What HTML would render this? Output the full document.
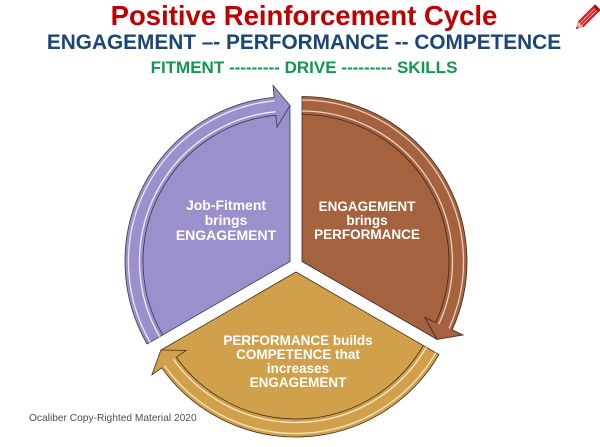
<!DOCTYPE html>
<html>
<head>
<meta charset="utf-8">
<style>
  html,body{margin:0;padding:0;background:#fff;}
  svg{display:block;}
  text{font-family:"Liberation Sans",Arial,sans-serif;}
</style>
</head>
<body>
<svg width="600" height="447" viewBox="0 0 600 447" xmlns="http://www.w3.org/2000/svg">
  <!-- Header -->
  <text x="304" y="25" text-anchor="middle" font-size="27.5" font-weight="bold" fill="#c00000">Positive Reinforcement Cycle</text>
  <text x="304" y="49" text-anchor="middle" font-size="20.8" font-weight="bold" fill="#1b4675">ENGAGEMENT –- PERFORMANCE -- COMPETENCE</text>
  <text x="304" y="73" text-anchor="middle" font-size="17" font-weight="bold" fill="#12984a">FITMENT --------- DRIVE --------- SKILLS</text>

  <!-- Pencil icon -->
  <g transform="translate(587,18) rotate(-45)">
    <polygon points="-15.5,0 -9,-4 -9,4" fill="#e8b0a0"/>
    <polygon points="-15.5,0 -13,-1.5 -13,1.5" fill="#8a1010"/>
    <rect x="-9" y="-4" width="21" height="8" fill="#d42222"/>
    <line x1="-9" y1="-1.3" x2="12" y2="-1.3" stroke="#f3c0c0" stroke-width="0.8"/>
    <line x1="-9" y1="1.3" x2="12" y2="1.3" stroke="#f3c0c0" stroke-width="0.8"/>
    <rect x="12" y="-4" width="3.5" height="8" fill="#a51515"/>
  </g>

  <!-- Purple sector -->
  <path d="M 290 261.5 L 147.11 344 A 165 165 0 0 1 274.18 97.26 L 273.03 85.31 L 290 105.5 Z" fill="#9b90cc" stroke="#3a3a4a" stroke-width="0.8"/>
  <path d="M 150.14 342.25 A 161.5 161.5 0 0 1 274.52 100.74" fill="none" stroke="#ffffff" stroke-width="1.3" opacity="0.8"/>
  <path d="M 159.66 336.75 A 150.5 150.5 0 0 1 275.57 111.69" fill="none" stroke="#ffffff" stroke-width="1.3" opacity="0.85"/>
  <path d="M 162.69 335 A 147 147 0 0 1 275.91 115.18 L 277.06 127.12 L 290 105.5" fill="none" stroke="#3a3a4a" stroke-width="0.8"/>

  <!-- Brown sector -->
  <path d="M 302 261.5 L 302 96.5 A 165 165 0 0 1 452.14 329.92 L 463.06 334.9 L 437.1 339.5 Z" fill="#a4623f" stroke="#3a2a22" stroke-width="0.8"/>
  <path d="M 302 100 A 161.5 161.5 0 0 1 448.96 328.47" fill="none" stroke="#ffe6da" stroke-width="1.3" opacity="0.8"/>
  <path d="M 302 111 A 150.5 150.5 0 0 1 438.95 323.91" fill="none" stroke="#ffe6da" stroke-width="1.3" opacity="0.85"/>
  <path d="M 302 114.5 A 147 147 0 0 1 435.76 322.46 L 424.84 317.48 L 437.1 339.5" fill="none" stroke="#3a2a22" stroke-width="0.8"/>

  <!-- Gold sector -->
  <path d="M 296 272 L 438.89 354.5 A 165 165 0 0 1 161.67 367.82 L 151.9 374.78 L 160.9 350 Z" fill="#d1a04a" stroke="#3a3020" stroke-width="0.8"/>
  <path d="M 435.86 352.75 A 161.5 161.5 0 0 1 164.52 365.78" fill="none" stroke="#fff4d8" stroke-width="1.3" opacity="0.8"/>
  <path d="M 426.34 347.25 A 150.5 150.5 0 0 1 173.48 359.39" fill="none" stroke="#fff4d8" stroke-width="1.3" opacity="0.85"/>
  <path d="M 423.31 345.5 A 147 147 0 0 1 176.32 357.36 L 186.09 350.39 L 160.9 350" fill="none" stroke="#3a3020" stroke-width="0.8"/>

  <!-- Sector labels -->
  <g font-weight="bold" fill="#ffffff" text-anchor="middle">
    <text x="226" y="210" font-size="14">Job-Fitment</text>
    <text x="226" y="225" font-size="14">brings</text>
    <text x="226" y="240" font-size="14">ENGAGEMENT</text>

    <text x="367" y="211" font-size="13.5">ENGAGEMENT</text>
    <text x="367" y="225" font-size="13.5">brings</text>
    <text x="367" y="239" font-size="13.5">PERFORMANCE</text>

    <text x="298" y="345" font-size="13.5">PERFORMANCE builds</text>
    <text x="298" y="359" font-size="13.5">COMPETENCE that</text>
    <text x="298" y="373" font-size="13.5">increases</text>
    <text x="298" y="387" font-size="13.5">ENGAGEMENT</text>
  </g>

  <!-- Footer -->
  <text x="29" y="421" font-size="10.2" fill="#4d4d5a">Ocaliber Copy-Righted Material 2020</text>
</svg>
</body>
</html>
